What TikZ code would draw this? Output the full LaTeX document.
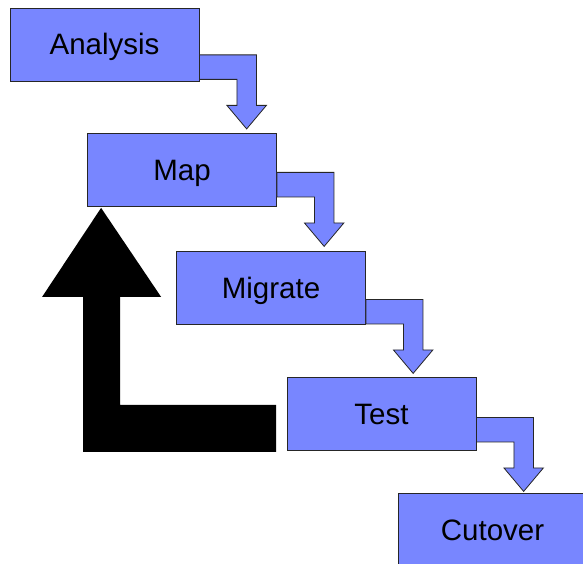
\documentclass[tikz,border=0pt]{standalone}
\usepackage{fontspec}
\setmainfont{Liberation Sans}
\usetikzlibrary{calc,positioning}
\definecolor{stepblue}{RGB}{120,134,255}
\tikzset{
  stagebox/.style={draw=black!85,line width=0.8pt,fill=stepblue,minimum width=189,minimum height=73,inner sep=0pt,text height=24pt,text depth=3pt,font=\fontsize{29.5}{34}\selectfont},
  flowarrow/.style={draw=black!85,line width=0.8pt,fill=stepblue,line join=miter},
}
\begin{document}
\begin{tikzpicture}[x=1pt,y=-1pt]
\useasboundingbox (0,0) rectangle (583,564);
\clip (0,0) rectangle (583,564);
\node[stagebox] (analysis) at (104.5,44.5) {Analysis};
\node[stagebox] (map) at (182,170) {Map};
\node[stagebox] (migrate) at (271,288) {Migrate};
\node[stagebox] (test) at (381.5,414) {Test};
\node[stagebox] (cutover) at (492.5,529.5) {Cutover};
% elbow arrows between the stages
\foreach \a/\d in {analysis/2,map/10,migrate/1,test/9}{
  \draw[flowarrow] ($(\a.south east)+(0,-\d)$) -- ++(37.5,0) -- ++(0,26) -- ++(-10,0)
    -- ++(19.75,23.5) -- ++(19.75,-23.5) -- ++(-10,0) -- ++(0,-50.5) -- ++(-57,0) -- cycle;
}
% feedback arrow from test back to map
\coordinate (looptip) at ($(map.south west)+(14,1)$);
\fill[black] (looptip) -- ++(60,89) -- ++(-41,0) -- ++(0,108) -- ++(156,0) -- ++(0,47)
  -- ++(-193,0) -- ++(0,-155) -- ++(-41,0) -- cycle;
\end{tikzpicture}
\end{document}
